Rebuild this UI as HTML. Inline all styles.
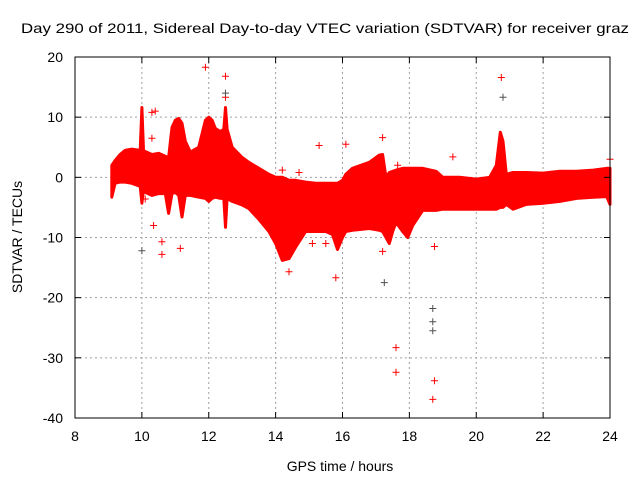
<!DOCTYPE html>
<html><head><meta charset="utf-8"><style>
body{margin:0;background:#fff;}
svg{display:block;font-family:"Liberation Sans",sans-serif;}
</style></head><body>
<svg id="chart" width="640" height="480" viewBox="0 0 640 480" xmlns="http://www.w3.org/2000/svg">
<rect width="640" height="480" fill="#fff"/>
<text x="325" y="33" font-size="14" text-anchor="middle" textLength="608" lengthAdjust="spacingAndGlyphs">Day 290 of 2011, Sidereal Day-to-day VTEC variation (SDTVAR) for receiver graz</text>
<g id="grid"></g>
<g id="band"></g>
<g id="pts"></g>
<g id="axes"></g>
<text x="340" y="471" font-size="14" text-anchor="middle">GPS time / hours</text>
<text transform="translate(22,237) rotate(-90)" font-size="14" text-anchor="middle">SDTVAR / TECUs</text>
</svg>
<script>
const xTicks=[8,10,12,14,16,18,20,22,24];
const yTicks=[20,10,0,-10,-20,-30,-40];
const times=[9.1,9.2,9.35,9.5,9.7,9.95,10.0,10.05,10.1,10.3,10.5,10.7,10.8,10.9,11.0,11.1,11.2,11.3,11.45,11.7,11.9,12.0,12.1,12.2,12.35,12.45,12.5,12.55,12.7,13.0,13.2,13.5,13.8,14.0,14.2,14.4,14.6,14.9,15.2,15.5,15.7,15.85,16.0,16.1,16.3,16.8,17.1,17.2,17.3,17.4,17.5,17.6,17.8,17.95,18.1,18.4,18.8,19.0,19.5,20.0,20.4,20.6,20.72,20.8,20.9,21.1,21.5,22.0,22.5,23.0,23.5,23.9,24.0];
const upper=[2,2.8,3.8,4.5,4.7,4.5,11.6,4.5,4.3,3.8,4,3.5,3.3,8.3,9.5,9.8,9,6,4.2,5,9.5,10,9.5,8.1,7.6,8,11.6,8,5,3.3,2.5,1.5,0.5,0,0,-0.5,-0.5,-0.8,-1,-1,-1,-1,-0.5,0.5,1.5,2.5,3.7,3.8,0,0.8,1,1.2,1.5,1.5,1.5,1.5,1,0,0,-0.3,0,2,7.5,6,0.5,0.8,0.8,0.7,1,1,1.2,1.5,1.5];
const lower=[-3.3,-1,-0.8,-0.8,-1,-1.5,-4.3,-2,-2.5,-3,-2.7,-2.7,-6,-2.7,-2.5,-3,-6.6,-3,-3,-3.3,-3.5,-4,-3.5,-3.3,-3.5,-3.5,-8.3,-3.5,-4,-4.6,-5.2,-7,-9,-11,-13.8,-13.5,-11.6,-9,-9,-9,-9.5,-12,-10,-9,-8.8,-8.5,-8.8,-9,-10,-11,-9,-7.5,-9,-10,-8,-5.5,-5.5,-5.3,-5.3,-5.3,-5.3,-5.3,-5,-5,-4.5,-5.3,-4.5,-4.3,-4,-3.5,-3.3,-3.2,-4.5];
const outT=[11.9,12.5,12.5,10.3,10.4,10.35,10.6,10.6,11.15,10.3,14.2,14.7,14.4,15.1,15.3,15.5,15.8,16.1,17.2,17.2,17.6,17.6,17.65,18.75,18.75,18.7,19.3,20.75,24.0,10.65,10.1];
const outV=[18.3,16.8,13.3,10.8,11,-8,-10.7,-12.8,-11.8,6.5,1.2,0.8,-15.7,-11,5.3,-11,-16.7,5.5,6.6,-12.3,-28.3,-32.4,2,-11.5,-33.8,-36.9,3.4,16.6,3,-1.5,-3.6];
const darkT=[10.0,12.5,17.25,18.7,18.7,18.7,20.8];
const darkV=[-12.2,14,-17.5,-21.8,-24,-25.5,13.3];

const X0=75,X1=610,Y0=418,Y1=57;
const xs=t=>X0+(t-8)/(24-8)*(X1-X0);
const ys=v=>Y0-(v+40)/60*(Y0-Y1);
const NS="http://www.w3.org/2000/svg";
function mk(tag,attrs,parent){const e=document.createElementNS(NS,tag);for(const k in attrs)e.setAttribute(k,attrs[k]);parent.appendChild(e);return e;}
const grid=document.getElementById('grid'),axes=document.getElementById('axes');
xTicks.forEach(t=>{
  if(t>8&&t<24){const g=mk('line',{x1:xs(t),x2:xs(t),y1:Y1,y2:Y0,stroke:'#a0a0a0','stroke-dasharray':'2,3'},grid);
  
  }
  mk('line',{x1:xs(t),x2:xs(t),y1:Y0,y2:Y0-6,stroke:'#000'},axes);
  mk('line',{x1:xs(t),x2:xs(t),y1:Y1,y2:Y1+6,stroke:'#000'},axes);
  const l=mk('text',{x:xs(t),y:441,'font-size':14,'text-anchor':'middle'},axes);l.textContent=t;
  
  
});
yTicks.forEach(v=>{
  if(v<20&&v>-40){const g=mk('line',{x1:X0,x2:X1,y1:ys(v),y2:ys(v),stroke:'#a0a0a0','stroke-dasharray':'2,3'},grid);
  
  }
  mk('line',{x1:X0,x2:X0+6,y1:ys(v),y2:ys(v),stroke:'#000'},axes);
  mk('line',{x1:X1,x2:X1-6,y1:ys(v),y2:ys(v),stroke:'#000'},axes);
  const l=mk('text',{x:63,y:ys(v)+5,'font-size':14,'text-anchor':'end'},axes);l.textContent=v;
  
  
});
mk('rect',{x:X0,y:Y1,width:X1-X0,height:Y0-Y1,fill:'none',stroke:'#000'},axes);
const band=document.getElementById('band');
let d='';
times.forEach((t,i)=>{d+=(i?'L':'M')+xs(t).toFixed(1)+','+ys(upper[i]).toFixed(1);});
for(let i=times.length-1;i>=0;i--)d+='L'+xs(times[i]).toFixed(1)+','+ys(lower[i]).toFixed(1);
d+='Z';
const p=mk('path',{d:d,fill:'#ff0000',stroke:'#ff0000','stroke-width':3,'stroke-linejoin':'round'},band);


const pts=document.getElementById('pts');
function plus(t,v,c){const x=xs(t),y=ys(v);
  const e=mk('path',{d:`M${x-3.5},${y}H${x+3.5}M${x},${y-3.5}V${y+3.5}`,stroke:c,'stroke-width':1},pts);
  
  }
outT.forEach((t,i)=>plus(t,outV[i],'#ff0000'));
darkT.forEach((t,i)=>plus(t,darkV[i],'#505050'));
</script>
</body></html>
